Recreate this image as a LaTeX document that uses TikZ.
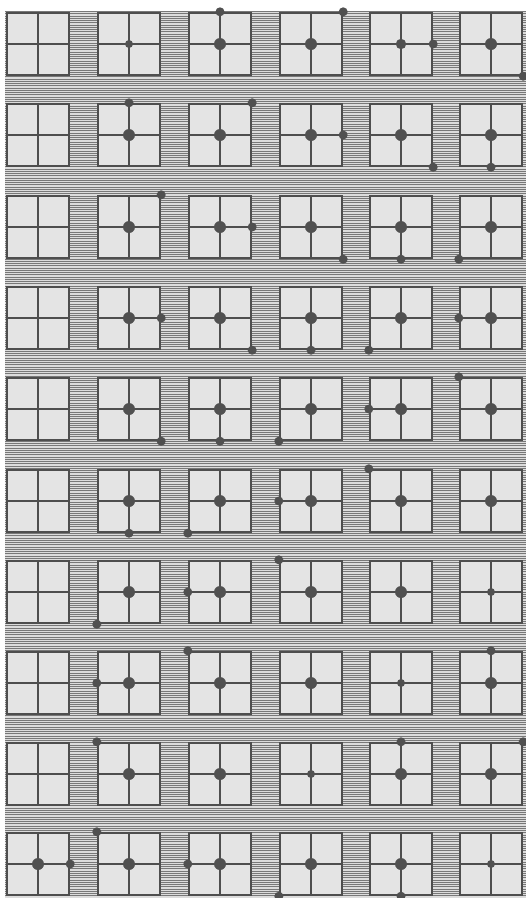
\documentclass[tikz,border=0pt]{standalone}
\usepackage{tikz}
\tikzset{every picture/.style={line width=0.75pt}}

\definecolor{wallgray}{HTML}{DCDCDC}
\definecolor{hatchgray}{HTML}{787878}
\definecolor{framegray}{HTML}{4E4E4E}
\definecolor{glassgray}{HTML}{E4E4E4}
\definecolor{dotgray}{HTML}{505050}

\begin{document}
\begin{tikzpicture}[x=1pt, y=-1pt,
		% Horizontal hatching of the wall
		hatch/.style={
			draw=hatchgray,
			line width=0.95pt
		},
		% Window pane with its frame
		window/.style={
			rectangle,
			draw=framegray,
			fill=glassgray,
			line width=2.4pt,
			minimum width=62pt,
			minimum height=62pt,
			inner sep=0pt
		},
		% Cross bars of a window
		mullion/.style={
			draw=framegray,
			line width=1.2pt
		},
		% Light marker
		dot/.style={
			fill=dotgray
		}
		]
		
		\useasboundingbox (0,0) rectangle (526,898);
		\fill[white] (0,0) rectangle (526,898);
		
		% --- Wall ---
		\fill[wallgray] (5,11) rectangle (526,898);
		\foreach \y in {11.5,13.75,...,898}
			\draw[hatch] (5,\y) -- (526,\y);
		
		% --- Windows ---
		% 10 floors, 6 windows each
		\foreach \r/\yc in {1/44,2/135,3/227,4/318,5/409,6/501,7/592,8/683,9/774,10/864}
			\foreach \c/\xc in {1/38,2/129,3/220,4/311,5/401,6/491} {
				\node[window] (w\r-\c) at (\xc,\yc) {};
				\draw[mullion] (w\r-\c.north) -- (w\r-\c.south);
				\draw[mullion] (w\r-\c.west) -- (w\r-\c.east);
			}
		
		% --- Lights in the middle of the windows ---
		\foreach \r/\c in {1/3,1/4,1/6,
			2/2,2/3,2/4,2/5,2/6,
			3/2,3/3,3/4,3/5,3/6,
			4/2,4/3,4/4,4/5,4/6,
			5/2,5/3,5/4,5/5,5/6,
			6/2,6/3,6/4,6/5,6/6,
			7/2,7/3,7/4,7/5,
			8/2,8/3,8/4,8/6,
			9/2,9/3,9/5,9/6,
			10/1,10/2,10/3,10/4,10/5}
			\fill[dot] (w\r-\c.center) circle (6pt);
		\fill[dot] (w1-5.center) circle (5.2pt);
		\foreach \r/\c in {1/2,7/6,8/5,9/4,10/6}
			\fill[dot] (w\r-\c.center) circle (4pt);
		
		% --- Lights on the frames ---
		\foreach \r/\c/\a in {1/3/north,1/4/north east,1/5/east,1/6/south east,
			2/2/north,2/3/north east,2/4/east,2/5/south east,2/6/south,
			3/2/north east,3/3/east,3/4/south east,3/5/south,3/6/south west,
			4/2/east,4/3/south east,4/4/south,4/5/south west,4/6/west,
			5/2/south east,5/3/south,5/4/south west,5/5/west,5/6/north west,
			6/2/south,6/3/south west,6/4/west,6/5/north west,
			7/2/south west,7/3/west,7/4/north west,
			8/2/west,8/3/north west,8/6/north,
			9/2/north west,9/5/north,9/6/north east,
			10/1/east,10/2/north west,10/3/west,10/4/south west,10/5/south}
			\fill[dot] (w\r-\c.\a) circle (4.5pt);
		
	\end{tikzpicture}
\end{document}
